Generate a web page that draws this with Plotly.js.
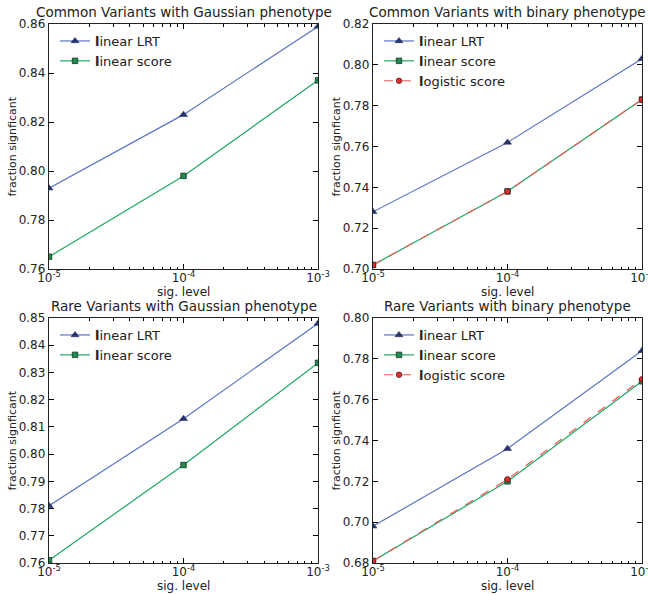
<!DOCTYPE html>
<html>
<head>
<meta charset="utf-8">
<script src="https://cdn.plot.ly/plotly-3.0.1.min.js"></script>
<style>body{margin:0;padding:0;background:#fff;}#chart{width:648px;height:595px;}</style>
</head>
<body>
<div id="chart"></div>
<script>
// ---- data ----
const sigLevels = [1e-5, 1e-4, 1e-3];

const commonGaussLRT   = [0.793, 0.823, 0.859];
const commonGaussScore = [0.765, 0.798, 0.837];

const commonBinLRT      = [0.728, 0.762, 0.803];
const commonBinScore    = [0.702, 0.738, 0.783];
const commonBinLogistic = [0.702, 0.738, 0.783];

const rareGaussLRT   = [0.781, 0.813, 0.848];
const rareGaussScore = [0.761, 0.796, 0.8335];

const rareBinLRT      = [0.698, 0.736, 0.784];
const rareBinScore    = [0.681, 0.720, 0.769];
const rareBinLogistic = [0.681, 0.721, 0.770];

const panelTitles = [
  "Common Variants with Gaussian phenotype",
  "Common Variants with binary phenotype",
  "Rare Variants with Gaussian phenotype",
  "Rare Variants with binary phenotype"
];
const seriesNames = ["<b>l</b>inear LRT", "<b>l</b>inear score", "<b>l</b>ogistic score"];
const xTickVals = [1e-5, 1e-4, 1e-3];
const xTickText = ["10<sup>-5</sup>", "10<sup>-4</sup>", "10<sup>-3</sup>"];
const xLabel = "sig. level";
const yLabel = "fraction signficant";

// ---- styles ----
const W = 648, H = 595;
const FONT = "DejaVu Sans, sans-serif";
const lrtStyle = {line:{color:'#5b74c4', width:1.2}, marker:{symbol:'triangle-up', size:7, color:'#27346e', line:{color:'#1a2350', width:0.5}}};
const scoreStyle = {line:{color:'#1fa862', width:1.2}, marker:{symbol:'square', size:5.5, color:'#1f8a4c', line:{color:'#14352a', width:0.8}}};
const logStyle = {line:{color:'#f05a5a', width:1.2, dash:'dash'}, marker:{symbol:'circle', size:5.5, color:'#e0302c', line:{color:'#5a1a1a', width:0.8}}};

function tr(y, name, style, ax, leg) {
  return Object.assign({x: sigLevels, y: y, name: name, mode:'lines+markers', type:'scatter',
    xaxis: ax[0], yaxis: ax[1], legend: leg, cliponaxis: true}, JSON.parse(JSON.stringify(style)));
}

const data = [
  tr(commonGaussLRT, seriesNames[0], lrtStyle, ['x','y'], 'legend'),
  tr(commonGaussScore, seriesNames[1], scoreStyle, ['x','y'], 'legend'),
  tr(commonBinLRT, seriesNames[0], lrtStyle, ['x2','y2'], 'legend2'),
  tr(commonBinScore, seriesNames[1], scoreStyle, ['x2','y2'], 'legend2'),
  tr(commonBinLogistic, seriesNames[2], logStyle, ['x2','y2'], 'legend2'),
  tr(rareGaussLRT, seriesNames[0], lrtStyle, ['x3','y3'], 'legend3'),
  tr(rareGaussScore, seriesNames[1], scoreStyle, ['x3','y3'], 'legend3'),
  tr(rareBinLRT, seriesNames[0], lrtStyle, ['x4','y4'], 'legend4'),
  tr(rareBinScore, seriesNames[1], scoreStyle, ['x4','y4'], 'legend4'),
  tr(rareBinLogistic, seriesNames[2], logStyle, ['x4','y4'], 'legend4')
];

// pixel boxes of plot areas [left, right, top, bottom]
const boxes = [[49,318,24,269],[373,642,24,269],[49,318,318,563],[373,642,318,563]];
const yRanges = [[0.76,0.86],[0.70,0.82],[0.76,0.85],[0.68,0.80]];
const yDticks = [0.02, 0.02, 0.01, 0.02];

const layout = {
  width: W, height: H,
  margin: {l:0, r:0, t:0, b:0, pad:0},
  paper_bgcolor:'#fff', plot_bgcolor:'#fff',
  font: {family: FONT, size: 11, color:'#222'},
  showlegend: true,
  annotations: [],
  hovermode: false
};

boxes.forEach((b, i) => {
  const sfx = i === 0 ? '' : String(i+1);
  const xd = [b[0]/W, b[1]/W];
  const yd = [1 - b[3]/H, 1 - b[2]/H];
  layout['xaxis'+sfx] = {
    type:'log', domain: xd, range:[-5,-3], anchor: 'y'+sfx,
    tickvals: xTickVals, ticktext: xTickText,
    ticks:'inside', ticklen:5, tickwidth:1, tickcolor:'#000',
    ticklabeloverflow:'allow', ticklabelstandoff:-3,
    showline:true, linecolor:'#222', linewidth:1.2, mirror:'ticks',
    showgrid:false, zeroline:false,
    tickfont:{family:FONT, size:12, color:'#222'},
    minor:{ticks:'inside', ticklen:2.5, tickcolor:'#000', dtick:'D1', showgrid:false},
    fixedrange:true
  };
  layout['yaxis'+sfx] = {
    domain: yd, range: yRanges[i], anchor:'x'+sfx,
    dtick: yDticks[i], tick0: 0, tickformat: '.2f',
    ticks:'inside', ticklen:5, tickwidth:1, tickcolor:'#000',
    ticklabeloverflow:'allow',
    showline:true, linecolor:'#222', linewidth:1.2, mirror:'ticks',
    showgrid:false, zeroline:false,
    tickfont:{family:FONT, size:12, color:'#222'},
    fixedrange:true
  };
  const legKey = i === 0 ? 'legend' : 'legend'+(i+1);
  layout[legKey] = {
    x: (b[0]+6)/W, y: 1 - (b[2]+2)/H, xanchor:'left', yanchor:'top',
    bgcolor:'rgba(0,0,0,0)', borderwidth:0,
    font:{family:FONT, size:13, color:'#222'},
    tracegroupgap:0, itemwidth:30
  };
  const cx = (b[0]+b[1])/2;
  layout.annotations.push({
    text: panelTitles[i], xref:'paper', yref:'paper',
    x: cx/W, y: 1 - (b[2]-12)/H, xanchor:'center', yanchor:'middle',
    showarrow:false, font:{family:FONT, size:13.5, color:'#222'}
  });
  layout.annotations.push({
    text: xLabel, xref:'paper', yref:'paper',
    x: cx/W, y: 1 - (b[3]+23)/H, xanchor:'center', yanchor:'middle',
    showarrow:false, font:{family:FONT, size:12, color:'#222'}
  });
  layout.annotations.push({
    text: yLabel, xref:'paper', yref:'paper', textangle:-90,
    x: (b[0]-37)/W, y: 1 - ((b[2]+b[3])/2)/H, xanchor:'center', yanchor:'middle',
    showarrow:false, font:{family:FONT, size:11, color:'#222'}
  });
});

Plotly.newPlot('chart', data, layout, {staticPlot:true, displayModeBar:false});
</script>
</body>
</html>
